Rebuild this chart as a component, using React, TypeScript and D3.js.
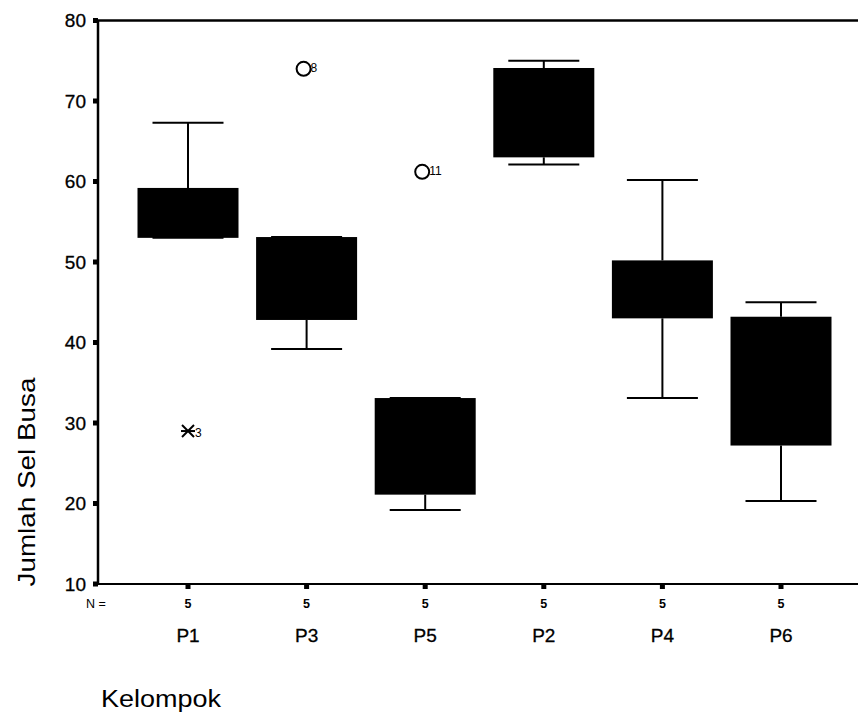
import * as d3 from 'd3'

// boxplot summary
const categories = ['P1', 'P3', 'P5', 'P2', 'P4', 'P6']
const whiskerLow = [53, 39.2, 19.2, 62.1, 33.1, 20.3]
const q1 = [53, 42.8, 21.1, 63, 43, 27.2]
const q3 = [59.2, 53.1, 33.1, 74.1, 50.2, 43.2]
const whiskerHigh = [67.3, 53.1, 33.1, 75, 60.2, 45]
const counts = [5, 5, 5, 5, 5, 5]

// outliers (o) and extremes (*)
const outlierGroup = ['P3', 'P5']
const outlierValue = [74, 61.2]
const outlierCase = ['8', '11']
const extremeGroup = ['P1']
const extremeValue = [29]
const extremeCase = ['3']

const yTicks = [10, 20, 30, 40, 50, 60, 70, 80]

const W = 858
const H = 716
const font = 'Liberation Sans, Arial, sans-serif'

export default function App() {
  const x = d3.scalePoint<string>().domain(categories).range([188, 781])
  const y = d3.scaleLinear().domain([10, 80]).range([584, 20.5])
  const left = 98
  const boxW = 101
  const capW = 71

  return (
    <svg
      width={W}
      height={H}
      style={{ position: 'absolute', left: 0, top: 0, background: '#fff' }}
      fontFamily={font}
      fill='#000'
    >
      <rect width={W} height={H} fill='#fff' />

      {/* frame */}
      <line x1={left} x2={W} y1={y(80)} y2={y(80)} stroke='#000' strokeWidth={2.5} />
      <line x1={left} x2={W} y1={y(10)} y2={y(10)} stroke='#000' strokeWidth={2} />
      <line x1={left} x2={left} y1={y(80)} y2={y(10)} stroke='#000' strokeWidth={2.5} />

      {/* y axis */}
      {yTicks.map((t) => (
        <g key={t}>
          <rect x={left - 5} y={y(t) - 2.5} width={5} height={5} fill='#000' />
          <text
            x={86}
            y={y(t)}
            textAnchor='end'
            dominantBaseline='central'
            fontSize={19}
            fill='#000'
            stroke='#000'
            strokeWidth={0.3}
          >
            {t}
          </text>
        </g>
      ))}

      <text
        transform={`translate(35, 482) rotate(-90)`}
        textAnchor='middle'
        fontSize={24}
        textLength={209}
        lengthAdjust='spacingAndGlyphs'
        fill='#000'
      >
        Jumlah Sel Busa
      </text>

      {/* x axis */}
      <text x={86} y={608} fontSize={12.5} fill='#000'>
        N =
      </text>
      {categories.map((c, i) => (
        <g key={c}>
          <rect x={x(c)! - 2.5} y={y(10)} width={5} height={5} fill='#000' />
          <text
            x={x(c)}
            y={608}
            textAnchor='middle'
            fontSize={12.5}
            fontWeight='bold'
            fill='#000'
          >
            {counts[i]}
          </text>
          <text
            x={x(c)}
            y={642}
            textAnchor='middle'
            fontSize={19}
            fill='#000'
            stroke='#000'
            strokeWidth={0.3}
          >
            {c}
          </text>
        </g>
      ))}

      <text
        x={101}
        y={707}
        fontSize={23}
        textLength={120}
        lengthAdjust='spacingAndGlyphs'
        fill='#000'
      >
        Kelompok
      </text>

      {/* boxes */}
      {categories.map((c, i) => {
        const cx = x(c)!
        return (
          <g key={c} stroke='#000' strokeWidth={2}>
            <line x1={cx} x2={cx} y1={y(whiskerHigh[i])} y2={y(q3[i])} />
            <line x1={cx} x2={cx} y1={y(q1[i])} y2={y(whiskerLow[i])} />
            <line
              x1={cx - capW / 2}
              x2={cx + capW / 2}
              y1={y(whiskerHigh[i])}
              y2={y(whiskerHigh[i])}
            />
            <line
              x1={cx - capW / 2}
              x2={cx + capW / 2}
              y1={y(whiskerLow[i])}
              y2={y(whiskerLow[i])}
            />
            <rect
              x={cx - boxW / 2}
              y={y(q3[i])}
              width={boxW}
              height={y(q1[i]) - y(q3[i])}
              fill='#000'
              strokeWidth={0}
            />
          </g>
        )
      })}

      {/* outliers */}
      {outlierGroup.map((g, i) => {
        const cx = x(g)! - 3
        const cy = y(outlierValue[i])
        return (
          <g key={'o' + g}>
            <circle cx={cx} cy={cy} r={7} fill='none' stroke='#000' strokeWidth={2} />
            <text x={cx + 7} y={cy + 3} fontSize={12} fill='#000'>
              {outlierCase[i]}
            </text>
          </g>
        )
      })}

      {/* extremes */}
      {extremeGroup.map((g, i) => {
        const cx = x(g)!
        const cy = y(extremeValue[i])
        return (
          <g key={'e' + g}>
            <g stroke='#000' strokeWidth={2}>
              <line x1={cx - 7} x2={cx + 7} y1={cy} y2={cy} />
              <line x1={cx - 6} x2={cx + 6} y1={cy - 6} y2={cy + 6} />
              <line x1={cx - 6} x2={cx + 6} y1={cy + 6} y2={cy - 6} />
            </g>
            <text x={cx + 7} y={cy + 6} fontSize={12} fill='#000'>
              {extremeCase[i]}
            </text>
          </g>
        )
      })}
    </svg>
  )
}
